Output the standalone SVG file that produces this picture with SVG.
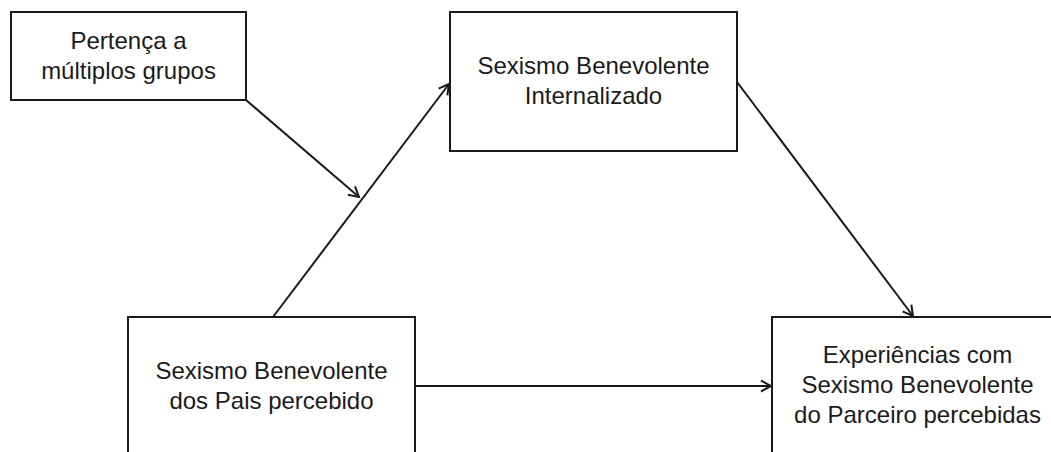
<svg xmlns="http://www.w3.org/2000/svg" width="1051" height="452" viewBox="0 0 1051 452">
<style>
.box{fill:#fff;stroke:#1a1a1a;stroke-width:2}
.lbl{font-family:"Liberation Sans",Arial,sans-serif;font-size:24px;fill:#1a1a1a;text-anchor:middle}
.edge{stroke:#1a1a1a;stroke-width:2;fill:none;marker-end:url(#arr)}
</style>
<defs>
<marker id="arr" markerUnits="userSpaceOnUse" markerWidth="14" markerHeight="14" viewBox="0 0 14 14" refX="12" refY="7" orient="auto">
<path d="M2,1.5 L12,7 L2,12.5" fill="none" stroke="#1a1a1a" stroke-width="2"/>
</marker>
</defs>
<rect width="1051" height="452" fill="#fff"/>
<g id="connectors">
<line class="edge" x1="246" y1="100" x2="359" y2="197"/>
<line class="edge" x1="273" y1="317" x2="449" y2="84"/>
<line class="edge" x1="737" y1="82" x2="913" y2="316"/>
<line class="edge" x1="415" y1="386" x2="771" y2="386"/>
</g>
<g id="node-pertenca">
<rect class="box" x="11" y="12" width="235" height="88"/>
<text class="lbl" x="128.5" y="49">Pertença a</text>
<text class="lbl" x="128.5" y="79">múltiplos grupos</text>
</g>
<g id="node-internalizado">
<rect class="box" x="450" y="12" width="287" height="139"/>
<text class="lbl" x="593.5" y="74">Sexismo Benevolente</text>
<text class="lbl" x="593.5" y="104">Internalizado</text>
</g>
<g id="node-pais">
<rect class="box" x="128" y="317" width="287" height="145"/>
<text class="lbl" x="271.5" y="379">Sexismo Benevolente</text>
<text class="lbl" x="271.5" y="409">dos Pais percebido</text>
</g>
<g id="node-parceiro">
<rect class="box" x="772" y="317" width="292" height="145"/>
<text class="lbl" x="917.5" y="363">Experiências com</text>
<text class="lbl" x="917.5" y="393">Sexismo Benevolente</text>
<text class="lbl" x="917.5" y="423">do Parceiro percebidas</text>
</g>
</svg>
